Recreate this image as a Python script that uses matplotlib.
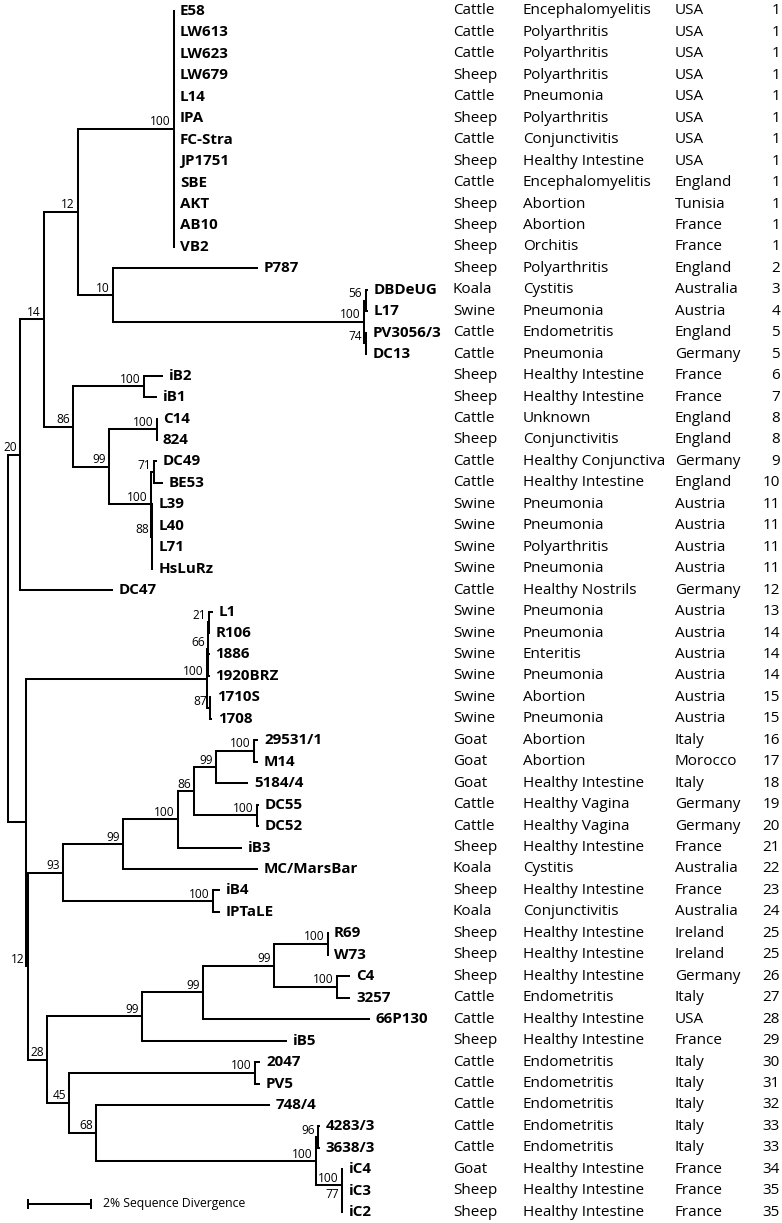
import matplotlib
matplotlib.use("Agg")
import matplotlib.pyplot as plt
import matplotlib.transforms as mtransforms

plt.rcParams['font.family'] = ['Open Sans', 'DejaVu Sans']

# Tree (branch lengths in % sequence divergence, internal labels = bootstrap)
tree_newick = (
    "(((((E58:0,LW613:0,LW623:0,LW679:0,L14:0,IPA:0,FC-Stra:0,JP1751:0,"
    "SBE:0,AKT:0,AB10:0,VB2:0)100:3.048,"
    "(P787:4.603,((DBDeUG:0.08,L17:0.08)56:0.05,(PV3056/3:0.05,DC13:0.05)74:0.05)100:7.968)10:1.111"
    ")12:1.079,"
    "((iB2:0.603,iB1:0.413)100:2.254,"
    "((C14:0,824:0)100:1.524,((DC49:0.095,BE53:0.286)71:0.095,"
    "(L39:0.03,L40:0.03,L71:0.03,HsLuRz:0.03)88:0.032)100:1.333)99:1.143)86:0.921"
    ")14:0.762,DC47:2.952)20:0.381,"
    "((((L1:0.127,R106:0.02)21:0.032,1886:0.05,1920BRZ:0.05)66:0.032,(1710S:0.03,1708:0.06)87:0.095)100:5.746,"
    "(((((((29531/1:0.127,M14:0.127)100:1.206,5184/4:1.016)99:0.698,(DC55:0.063,DC52:0.063)100:2.0)86:0.508,"
    "iB3:2.032)100:1.746,MC/MarsBar:4.286)99:1.905,(iB4:0.222,IPTaLE:0.222)100:4.762)93:1.111,"
    "(((((R69:0,W73:0)100:1.714,(C4:0.413,3257:0.413)100:2.0)99:2.254,66P130:5.302)99:1.937,iB5:4.603)99:3.016,"
    "((2047:0.159,PV5:0.159)100:5.905,(748/4:5.524,((4283/3:0.063,3638/3:0.063)96:0.063,"
    "(iC4:0.032,(iC3:0.016,iC2:0.016)77:0.016)100:0.825)100:6.984)68:0.857)45:0.698)28:0.603"
    ")12:0.063):0.571);"
)

hosts = ["Cattle", "Cattle", "Cattle", "Sheep", "Cattle", "Sheep", "Cattle", "Sheep", "Cattle",
         "Sheep", "Sheep", "Sheep", "Sheep", "Koala", "Swine", "Cattle", "Cattle", "Sheep", "Sheep",
         "Cattle", "Sheep", "Cattle", "Cattle", "Swine", "Swine", "Swine", "Swine", "Cattle",
         "Swine", "Swine", "Swine", "Swine", "Swine", "Swine", "Goat", "Goat", "Goat", "Cattle",
         "Cattle", "Sheep", "Koala", "Sheep", "Koala", "Sheep", "Sheep", "Sheep", "Cattle",
         "Cattle", "Sheep", "Cattle", "Cattle", "Cattle", "Cattle", "Cattle", "Goat", "Sheep", "Sheep"]
diseases = ["Encephalomyelitis", "Polyarthritis", "Polyarthritis", "Polyarthritis", "Pneumonia",
            "Polyarthritis", "Conjunctivitis", "Healthy Intestine", "Encephalomyelitis", "Abortion",
            "Abortion", "Orchitis", "Polyarthritis", "Cystitis", "Pneumonia", "Endometritis",
            "Pneumonia", "Healthy Intestine", "Healthy Intestine", "Unknown", "Conjunctivitis",
            "Healthy Conjunctiva", "Healthy Intestine", "Pneumonia", "Pneumonia", "Polyarthritis",
            "Pneumonia", "Healthy Nostrils", "Pneumonia", "Pneumonia", "Enteritis", "Pneumonia",
            "Abortion", "Pneumonia", "Abortion", "Abortion", "Healthy Intestine", "Healthy Vagina",
            "Healthy Vagina", "Healthy Intestine", "Cystitis", "Healthy Intestine", "Conjunctivitis",
            "Healthy Intestine", "Healthy Intestine", "Healthy Intestine", "Endometritis",
            "Healthy Intestine", "Healthy Intestine", "Endometritis", "Endometritis", "Endometritis",
            "Endometritis", "Endometritis", "Healthy Intestine", "Healthy Intestine", "Healthy Intestine"]
countries = ["USA", "USA", "USA", "USA", "USA", "USA", "USA", "USA", "England", "Tunisia", "France",
             "France", "England", "Australia", "Austria", "England", "Germany", "France", "France",
             "England", "England", "Germany", "England", "Austria", "Austria", "Austria", "Austria",
             "Germany", "Austria", "Austria", "Austria", "Austria", "Austria", "Austria", "Italy",
             "Morocco", "Italy", "Germany", "Germany", "France", "Australia", "France", "Australia",
             "Ireland", "Ireland", "Germany", "Italy", "USA", "France", "Italy", "Italy", "Italy",
             "Italy", "Italy", "France", "France", "France"]
groups = [1, 1, 1, 1, 1, 1, 1, 1, 1, 1, 1, 1, 2, 3, 4, 5, 5, 6, 7, 8, 8, 9, 10, 11, 11, 11, 11, 12,
          13, 14, 14, 14, 15, 15, 16, 17, 18, 19, 20, 21, 22, 23, 24, 25, 25, 26, 27, 28, 29, 30,
          31, 32, 33, 33, 34, 35, 35]

scale_len = 2.0
scale_text = "2% Sequence Divergence"


def parse_newick(s):
    s = s.strip().rstrip(";")
    pos = 0

    def node():
        nonlocal pos
        n = {"children": [], "name": "", "bl": 0.0}
        if s[pos] == "(":
            pos += 1
            while True:
                n["children"].append(node())
                if pos < len(s) and s[pos] == ",":
                    pos += 1
                else:
                    break
            pos += 1  # ')'
        start = pos
        while pos < len(s) and s[pos] not in ",():":
            pos += 1
        n["name"] = s[start:pos]
        if pos < len(s) and s[pos] == ":":
            pos += 1
            start = pos
            while pos < len(s) and s[pos] not in ",()":
                pos += 1
            n["bl"] = float(s[start:pos])
        return n

    return node()


root = parse_newick(tree_newick)

# layout
leaves = []


def layout(n, x):
    n["x"] = x + n["bl"]
    if not n["children"]:
        n["y"] = len(leaves)
        leaves.append(n)
    else:
        for c in n["children"]:
            layout(c, n["x"])
        n["y"] = (n["children"][0]["y"] + n["children"][-1]["y"]) / 2.0


root["bl"] = 0.0
layout(root, 0.0)

W, H = 782, 1223
px_x = 31.5    # pixels per 1 % divergence
x0 = 8
row = 21.45
y0 = 11

fig = plt.figure(figsize=(W / 100, H / 100), dpi=100)
ax = fig.add_axes([0, 0, 1, 1])
ax.set_xlim(-x0 / px_x, (W - x0) / px_x)
ax.set_ylim((H - y0) / row, -y0 / row)
ax.axis("off")

lw = 1.45
fs_col = 11.0
fs_name = 10.9
fs_boot = 8.6


def draw(n):
    if n["children"]:
        ys = [c["y"] for c in n["children"]]
        ax.plot([n["x"], n["x"]], [ys[0], ys[-1]], color="black", lw=lw, solid_capstyle="projecting")
        for c in n["children"]:
            ax.plot([n["x"], c["x"]], [c["y"], c["y"]], color="black", lw=lw, solid_capstyle="butt")
            draw(c)
        if n["name"] and n is not root:
            ax.annotate(n["name"], (n["x"], n["y"]), xytext=(-2.3, 2.6), textcoords="offset points",
                        ha="right", va="baseline", fontsize=fs_boot)
    else:
        ax.annotate(n["name"], (n["x"], n["y"]), xytext=(4.3, 0), textcoords="offset points",
                    ha="left", va="center", fontsize=fs_name, fontweight="bold")


draw(root)

# metadata columns
trans = mtransforms.blended_transform_factory(ax.transAxes, ax.transData)
for i, lf in enumerate(leaves):
    ax.text(453 / W, i, hosts[i], transform=trans, ha="left", va="center", fontsize=fs_col)
    ax.text(523 / W, i, diseases[i], transform=trans, ha="left", va="center", fontsize=fs_col)
    ax.text(675 / W, i, countries[i], transform=trans, ha="left", va="center", fontsize=fs_col)
    ax.text(780 / W, i, str(groups[i]), transform=trans, ha="right", va="center", fontsize=fs_col)

# scale bar
sb_x = (28 - x0) / px_x
sb_y = (1204 - y0) / row
ax.plot([sb_x, sb_x + scale_len], [sb_y, sb_y], color="black", lw=lw)
for xx in (sb_x, sb_x + scale_len):
    ax.plot([xx, xx], [sb_y - 0.17, sb_y + 0.17], color="black", lw=lw)
ax.text(sb_x + scale_len + 12 / px_x, sb_y, scale_text, ha="left", va="center", fontsize=8.85)

fig.savefig("out.png", dpi=100)
